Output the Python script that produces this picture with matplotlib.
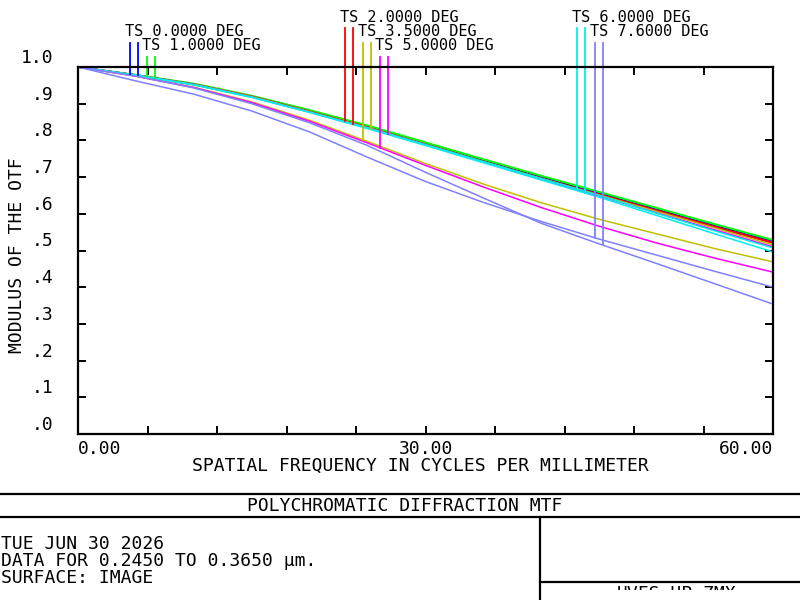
import matplotlib
matplotlib.use("Agg")
import matplotlib.pyplot as plt
from matplotlib.lines import Line2D
from matplotlib.transforms import Bbox
import numpy as np

# ---------------- data ----------------
freq = [0, 5, 10, 15, 20, 25, 30, 35, 40, 45, 50, 55, 60]

field_labels = ["TS 0.0000 DEG", "TS 1.0000 DEG", "TS 2.0000 DEG", "TS 3.5000 DEG",
                "TS 5.0000 DEG", "TS 6.0000 DEG", "TS 7.6000 DEG"]
field_colors = ["#0000ff", "#00ff00", "#ff0000", "#c0c000", "#ff00ff", "#00f0f0", "#8080ff"]

mtf_f0_t = [1.0, 0.978, 0.953, 0.920, 0.880, 0.838, 0.791, 0.745, 0.700, 0.656, 0.612, 0.568, 0.525]
mtf_f0_s = [1.0, 0.978, 0.953, 0.920, 0.880, 0.838, 0.791, 0.745, 0.700, 0.656, 0.612, 0.568, 0.525]
mtf_f1_t = [1.0, 0.979, 0.955, 0.922, 0.883, 0.841, 0.795, 0.749, 0.704, 0.660, 0.616, 0.572, 0.529]
mtf_f1_s = [1.0, 0.979, 0.954, 0.921, 0.882, 0.840, 0.794, 0.748, 0.703, 0.659, 0.615, 0.571, 0.528]
mtf_f2_t = [1.0, 0.978, 0.953, 0.920, 0.879, 0.836, 0.789, 0.743, 0.697, 0.652, 0.607, 0.563, 0.520]
mtf_f2_s = [1.0, 0.978, 0.952, 0.919, 0.878, 0.835, 0.788, 0.742, 0.697, 0.653, 0.609, 0.565, 0.522]
mtf_f3_t = [1.0, 0.975, 0.945, 0.905, 0.855, 0.797, 0.737, 0.681, 0.630, 0.585, 0.545, 0.505, 0.469]
mtf_f3_s = [1.0, 0.978, 0.952, 0.919, 0.878, 0.835, 0.789, 0.742, 0.696, 0.651, 0.606, 0.561, 0.515]
mtf_f4_t = [1.0, 0.975, 0.944, 0.903, 0.852, 0.793, 0.732, 0.673, 0.617, 0.566, 0.520, 0.479, 0.441]
mtf_f4_s = [1.0, 0.978, 0.952, 0.918, 0.877, 0.834, 0.788, 0.741, 0.694, 0.648, 0.602, 0.556, 0.510]
mtf_f5_t = [1.0, 0.978, 0.952, 0.918, 0.877, 0.834, 0.788, 0.742, 0.696, 0.650, 0.601, 0.553, 0.507]
mtf_f5_s = [1.0, 0.977, 0.951, 0.917, 0.876, 0.832, 0.786, 0.739, 0.692, 0.645, 0.595, 0.545, 0.496]
mtf_f6_t = [1.0, 0.962, 0.926, 0.880, 0.823, 0.754, 0.688, 0.631, 0.579, 0.531, 0.487, 0.443, 0.400]
mtf_f6_s = [1.0, 0.975, 0.943, 0.900, 0.848, 0.786, 0.713, 0.643, 0.574, 0.518, 0.464, 0.409, 0.354]

x_ticks = [0, 6, 12, 18, 24, 30, 36, 42, 48, 54, 60]
x_tick_labels = ["0.00", "", "", "", "", "30.00", "", "", "", "", "60.00"]
y_ticks = [0.0, 0.1, 0.2, 0.3, 0.4, 0.5, 0.6, 0.7, 0.8, 0.9, 1.0]
y_tick_labels = [".0", ".1", ".2", ".3", ".4", ".5", ".6", ".7", ".8", ".9", "1.0"]

x_title = "SPATIAL FREQUENCY IN CYCLES PER MILLIMETER"
y_title = "MODULUS OF THE OTF"
plot_title = "POLYCHROMATIC DIFFRACTION MTF"
info_lines = ["TUE JUN 30 2026", "DATA FOR 0.2450 TO 0.3650 µm.", "SURFACE: IMAGE"]
file_name = "UVFS_UP.ZMX"

curves_t = [mtf_f0_t, mtf_f1_t, mtf_f2_t, mtf_f3_t, mtf_f4_t, mtf_f5_t, mtf_f6_t]
curves_s = [mtf_f0_s, mtf_f1_s, mtf_f2_s, mtf_f3_s, mtf_f4_s, mtf_f5_s, mtf_f6_s]

# ---------------- layout ----------------
W, H = 800, 600
plt.rcParams['font.family'] = ['DejaVu Sans Mono', 'DejaVu Sans']
fig = plt.figure(figsize=(8, 6), dpi=100)
fig.patch.set_facecolor("white")
FS = 13

def fx(x):
    return x / W

def fy(y):
    return 1 - y / H

X0, X1, Y0, Y1 = 78, 773, 434, 67
ax = fig.add_axes([fx(X0), fy(Y0), (X1 - X0) / W, (Y0 - Y1) / H])
ax.set_xlim(0, 60)
ax.set_ylim(0, 1)

for sp in ax.spines.values():
    sp.set_linewidth(1.6)
    sp.set_color("black")

ax.set_xticks(x_ticks)
ax.set_xticklabels(x_tick_labels)
ax.set_yticks(y_ticks)
ax.set_yticklabels(y_tick_labels)
ax.tick_params(direction='in', length=5.5, width=1.4, top=True, right=True,
               labelsize=FS, colors="black")
ax.tick_params(axis='x', pad=4)
ax.tick_params(axis='y', pad=18)
xl = ax.get_xticklabels()
xl[0].set_ha('left')
xl[-1].set_ha('right')
for lbl in ax.get_yticklabels():
    lbl.set_va('bottom')

ax.set_xlabel(x_title, fontsize=FS)
ax.xaxis.label.set_va('center')
ax.xaxis.set_label_coords((420 - X0) / (X1 - X0), (Y0 - 466) / (Y0 - Y1))
ax.set_ylabel(y_title, fontsize=FS)
ax.yaxis.label.set_va('center')
ax.yaxis.set_label_coords((17 - X0) / (X1 - X0), (Y0 - 255) / (Y0 - Y1))

for ct, cs, col in zip(curves_t, curves_s, field_colors):
    ax.plot(freq, ct, color=col, lw=1.1, solid_joinstyle='round')
    ax.plot(freq, cs, color=col, lw=1.1, solid_joinstyle='round')

# legend labels with leader lines down to the curves
label_pos = [(125, 32), (142, 46), (340, 17), (358, 32), (375, 46), (572, 17), (590, 32)]
inv = ax.transData.inverted()
for (lx, ly), lab, col, ct, cs in zip(label_pos, field_labels, field_colors, curves_t, curves_s):
    fig.text(fx(lx), fy(ly), lab, ha='left', va='center', fontsize=11)
    top = ly + 11
    for dx, cur in ((4.5, ct), (13.0, cs)):
        xd, yd_top = inv.transform((lx + dx, H - top))
        yd_bot = np.interp(xd, freq, cur)
        ax.plot([xd, xd], [yd_top, yd_bot], color=col, lw=1.3, clip_on=False)

# ---------------- title block ----------------
def fline(x0, y0, x1, y1, lw=1.6):
    fig.add_artist(Line2D([fx(x0), fx(x1)], [fy(y0), fy(y1)], color="black", lw=lw,
                          transform=fig.transFigure))

fline(0, 494, 800, 494)
fline(0, 517, 800, 517)
fline(540, 517, 540, 600)
fline(540, 582, 800, 582)

fig.text(fx(405), fy(506), plot_title, ha='center', va='center', fontsize=FS)
fig.text(fx(1), fy(561), "\n".join(info_lines), ha='left', va='center',
         fontsize=FS, linespacing=0.95)

t = fig.text(fx(677), fy(585), file_name, ha='center', va='top', fontsize=FS)
t.set_clip_box(Bbox.from_extents(0, H - 590, W, H))
t.set_clip_on(True)

fig.savefig("out.png", dpi=100, facecolor="white")
